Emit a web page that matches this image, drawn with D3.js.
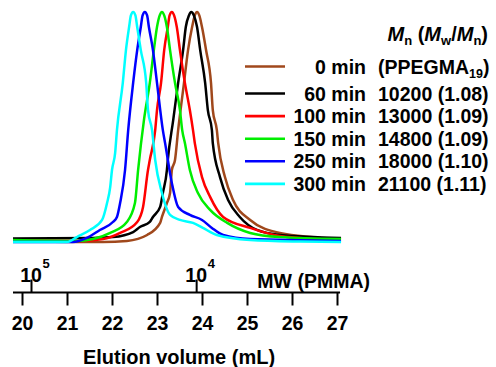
<!DOCTYPE html>
<html><head><meta charset="utf-8">
<script src="https://cdn.jsdelivr.net/npm/d3@7"></script>
<style>
html,body{margin:0;padding:0;background:#fff;}
svg text{font-family:"Liberation Sans",Arial,sans-serif;font-weight:bold;fill:#000;}
</style></head>
<body><svg id="c" width="496" height="367"></svg>
<script>
// ---- data ----
const seriesNames = ["0 min","60 min","100 min","150 min","250 min","300 min"];
const seriesInfo = [["(PPEGMA","19",")"],["10200 (1.08)"],["13000 (1.09)"],["14800 (1.09)"],["18000 (1.10)"],["21100 (1.11)"]];
const seriesColors = ["#a0481c","#000000","#ff0000","#00ee00","#0000ff","#00ffff"];
const volumeTicks = [20,21,22,23,24,25,26,27];
const mwTicks = [1e5,1e4];
const mwCalibVolume = [20.2,23.87];

const trace0 = [[19.80,-0.004],[21.80,-0.009],[22.33,-0.004],[22.78,0.022],[23.07,0.075],[23.11,0.101],[23.22,0.162],[23.29,0.206],[23.33,0.307],[23.40,0.351],[23.47,0.482],[23.60,0.689],[23.69,0.833],[23.78,0.934],[23.84,0.985],[23.89,1.0],[23.94,0.985],[24.0,0.934],[24.09,0.833],[24.20,0.689],[24.24,0.570],[24.33,0.482],[24.36,0.425],[24.51,0.276],[24.69,0.175],[25.07,0.088],[25.73,0.031],[27.09,0.004]];
const trace60 = [[19.80,0.007],[21.58,0.009],[22.02,0.013],[22.47,0.035],[22.62,0.057],[22.84,0.079],[22.91,0.101],[23.07,0.145],[23.13,0.206],[23.22,0.307],[23.24,0.351],[23.36,0.526],[23.47,0.689],[23.58,0.833],[23.64,0.934],[23.71,0.985],[23.76,1.0],[23.82,0.985],[23.89,0.934],[23.96,0.833],[24.07,0.689],[24.13,0.570],[24.22,0.482],[24.24,0.425],[24.40,0.276],[24.58,0.175],[24.84,0.101],[25.22,0.044],[25.73,0.022],[27.09,0.009]];
const trace100 = [[19.80,-0.002],[21.29,-0.004],[21.80,0.004],[22.18,0.031],[22.56,0.079],[22.69,0.145],[22.80,0.307],[22.84,0.351],[22.96,0.482],[23.0,0.570],[23.09,0.689],[23.16,0.833],[23.24,0.934],[23.28,0.985],[23.33,1.0],[23.38,0.985],[23.44,0.934],[23.51,0.833],[23.62,0.689],[23.73,0.570],[23.80,0.482],[23.84,0.425],[24.0,0.276],[24.18,0.189],[24.47,0.101],[25.07,0.053],[25.73,0.018],[27.09,0.0]];
const trace150 = [[19.80,0.0],[21.22,-0.004],[21.58,0.004],[21.96,0.031],[22.33,0.079],[22.51,0.162],[22.58,0.307],[22.71,0.526],[22.84,0.689],[22.93,0.833],[23.0,0.934],[23.06,0.985],[23.11,1.0],[23.16,0.985],[23.22,0.934],[23.29,0.833],[23.40,0.689],[23.51,0.570],[23.56,0.482],[23.62,0.425],[23.73,0.307],[23.91,0.206],[24.18,0.132],[24.56,0.075],[25.07,0.031],[25.73,0.013],[27.09,0.004]];
const trace250 = [[19.80,-0.009],[21.13,-0.009],[21.44,0.009],[21.73,0.044],[22.02,0.079],[22.11,0.101],[22.18,0.162],[22.29,0.307],[22.36,0.482],[22.47,0.689],[22.56,0.833],[22.64,0.934],[22.68,0.985],[22.73,1.0],[22.78,0.985],[22.82,0.934],[22.91,0.833],[23.0,0.689],[23.13,0.482],[23.18,0.425],[23.33,0.25],[23.47,0.145],[23.73,0.110],[24.0,0.088],[24.22,0.053],[24.47,0.022],[25.07,0.004],[27.09,-0.004]];
const trace300 = [[19.80,-0.009],[21.00,-0.009],[21.22,0.013],[21.51,0.044],[21.78,0.088],[21.89,0.162],[21.96,0.232],[22.00,0.307],[22.07,0.382],[22.11,0.482],[22.24,0.689],[22.31,0.833],[22.38,0.934],[22.42,0.985],[22.47,1.0],[22.52,0.985],[22.56,0.934],[22.64,0.833],[22.76,0.689],[22.80,0.570],[22.89,0.482],[22.96,0.351],[23.11,0.206],[23.29,0.110],[23.51,0.088],[23.80,0.075],[24.02,0.053],[24.33,0.022],[25.07,0.0],[26.18,-0.007],[27.09,-0.009]];
const traces = [trace0,trace60,trace100,trace150,trace250,trace300];

// ---- drawing ----
const svg = d3.select("#c");
const x = d3.scaleLinear().domain([20,27]).range([22,337]);
const y = d3.scaleLinear().domain([0,1]).range([240,12]);
const line = d3.line().x(d=>x(d[0])).y(d=>y(d[1])).curve(d3.curveMonotoneX);

svg.append("g").selectAll("path").data(traces).join("path")
  .attr("d",line).attr("fill","none")
  .attr("stroke",(d,i)=>seriesColors[i]).attr("stroke-width",2.5)
  .attr("stroke-linejoin","round");

// bottom axis
const axisY = 292.5;
const allV = traces.flat().map(d=>d[0]);
svg.append("line").attr("x1",x(d3.min(allV))).attr("x2",x(d3.max(allV))-1)
  .attr("y1",axisY).attr("y2",axisY).attr("stroke","#000").attr("stroke-width",2);
const gB = svg.append("g").attr("transform",`translate(0,${axisY})`)
  .call(d3.axisBottom(x).tickValues(volumeTicks).tickSize(13).tickPadding(11).tickFormat(d3.format("d")));
gB.select(".domain").remove();
gB.selectAll(".tick line").attr("stroke","#000").attr("stroke-width",2);
gB.selectAll(".tick text").attr("font-size",19.5).attr("font-family",null).attr("dy","0.71em");

// top MW axis
const mw = d3.scaleLog().domain(mwTicks).range(mwCalibVolume.map(x));
const gT = svg.append("g").attr("transform",`translate(0,${axisY})`)
  .call(d3.axisTop(mw).tickValues(mwTicks).tickSize(13).tickFormat(""));
gT.select(".domain").remove();
gT.selectAll(".tick line").attr("stroke","#000").attr("stroke-width",2);
mwTicks.forEach(t=>{
  const g = svg.append("g").attr("transform",`translate(${mw(t)},0)`);
  g.append("text").attr("x",0).attr("y",281.5).attr("text-anchor","middle").attr("font-size",19.5).text("10");
  g.append("text").attr("x",11.5).attr("y",268).attr("font-size",13).text(Math.round(Math.log10(t)));
});
svg.append("text").attr("x",370).attr("y",288).attr("text-anchor","end").attr("font-size",19.5).text("MW (PMMA)");
svg.append("text").attr("x",179).attr("y",364).attr("text-anchor","middle").attr("font-size",20).text("Elution volume (mL)");

// legend header
const hdr = svg.append("text").attr("x",488).attr("y",41).attr("text-anchor","end").attr("font-size",20);
hdr.append("tspan").attr("font-style","italic").text("M");
hdr.append("tspan").attr("font-size",13).attr("dy",4).text("n");
hdr.append("tspan").attr("dy",-4).text(" (");
hdr.append("tspan").attr("font-style","italic").text("M");
hdr.append("tspan").attr("font-size",13).attr("dy",4).text("w");
hdr.append("tspan").attr("dy",-4).text("/");
hdr.append("tspan").attr("font-style","italic").text("M");
hdr.append("tspan").attr("font-size",13).attr("dy",4).text("n");
hdr.append("tspan").attr("dy",-4).text(")");

// legend rows
const rowY = i => i===0 ? 66.5 : 93.5 + (i-1)*22.6;
seriesNames.forEach((name,i)=>{
  const yy = rowY(i);
  svg.append("line").attr("x1",245).attr("x2",285).attr("y1",yy).attr("y2",yy)
    .attr("stroke",seriesColors[i]).attr("stroke-width",2.6);
  svg.append("text").attr("x",366).attr("y",yy+7).attr("text-anchor","end").attr("font-size",19.5).text(name);
  const t = svg.append("text").attr("x",378).attr("y",yy+7).attr("font-size",19.5);
  const parts = seriesInfo[i];
  t.append("tspan").text(parts[0]);
  if(parts.length>1){
    t.append("tspan").attr("font-size",12.5).attr("dy",4).text(parts[1]);
    t.append("tspan").attr("dy",-4).text(parts[2]);
  }
});
</script></body></html>
